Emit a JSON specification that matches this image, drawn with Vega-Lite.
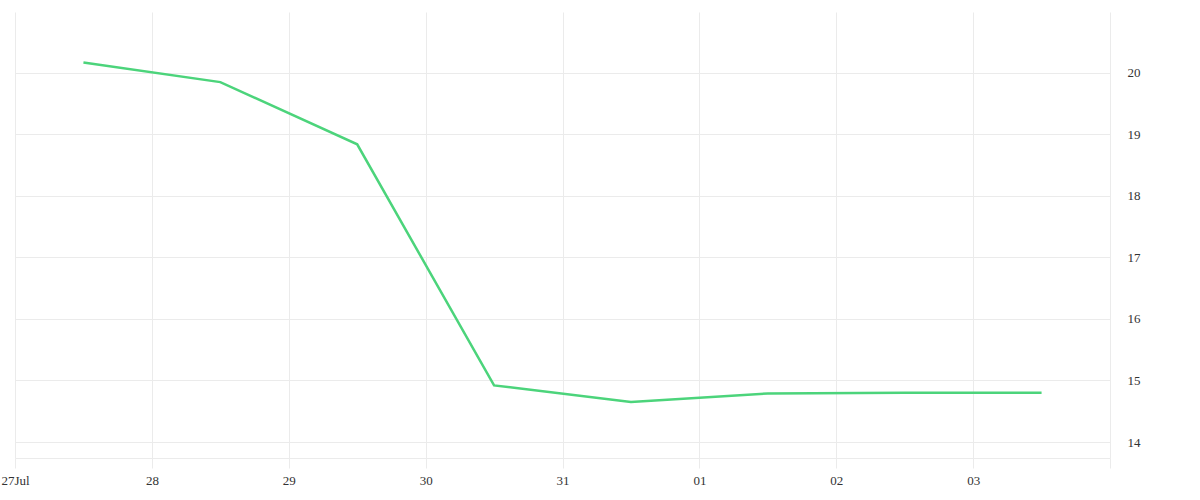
{
  "$schema": "https://vega.github.io/schema/vega-lite/v6.json",
  "width": 1095,
  "height": 446,
  "autosize": "none",
  "padding": {"left": 15, "top": 12, "right": 90, "bottom": 42},
  "background": "#ffffff",
  "config": {"view": {"stroke": null}},
  "data": {
    "values": [
      {"date": "2024-07-27T12:00:00Z", "value": 20.17},
      {"date": "2024-07-28T12:00:00Z", "value": 19.85},
      {"date": "2024-07-29T12:00:00Z", "value": 18.84},
      {"date": "2024-07-30T12:00:00Z", "value": 14.92},
      {"date": "2024-07-31T12:00:00Z", "value": 14.65},
      {"date": "2024-08-01T12:00:00Z", "value": 14.79},
      {"date": "2024-08-02T12:00:00Z", "value": 14.80},
      {"date": "2024-08-03T12:00:00Z", "value": 14.80}
    ]
  },
  "mark": {"type": "line", "color": "#4cd47b", "strokeWidth": 2.5},
  "encoding": {
    "x": {
      "field": "date",
      "type": "temporal",
      "scale": {
        "type": "utc",
        "domain": [
          {"year": 2024, "month": 7, "date": 27, "utc": true},
          {"year": 2024, "month": 8, "date": 4, "utc": true}
        ]
      },
      "axis": {
        "title": null,
        "values": [
          {"year": 2024, "month": 7, "date": 27, "utc": true},
          {"year": 2024, "month": 7, "date": 28, "utc": true},
          {"year": 2024, "month": 7, "date": 29, "utc": true},
          {"year": 2024, "month": 7, "date": 30, "utc": true},
          {"year": 2024, "month": 7, "date": 31, "utc": true},
          {"year": 2024, "month": 8, "date": 1, "utc": true},
          {"year": 2024, "month": 8, "date": 2, "utc": true},
          {"year": 2024, "month": 8, "date": 3, "utc": true},
          {"year": 2024, "month": 8, "date": 4, "utc": true}
        ],
        "labelExpr": "utcdate(datum.value) == 27 ? '27Jul' : (utcdate(datum.value) == 4 ? '' : utcFormat(datum.value, '%d'))",
        "grid": true,
        "gridColor": "#ebebeb",
        "tickColor": "#ebebeb",
        "tickSize": 10,
        "domainColor": "#ebebeb",
        "labelFont": "Liberation Serif",
        "labelFontSize": 13,
        "labelColor": "#333333",
        "labelPadding": 6,
        "labelFlush": false,
        "labelOverlap": false
      }
    },
    "y": {
      "field": "value",
      "type": "quantitative",
      "scale": {"domain": [13.74, 20.99], "zero": false, "nice": false},
      "axis": {
        "title": null,
        "orient": "right",
        "values": [14, 15, 16, 17, 18, 19, 20],
        "grid": true,
        "gridColor": "#ebebeb",
        "ticks": false,
        "domain": false,
        "labelFont": "Liberation Serif",
        "labelFontSize": 13,
        "labelColor": "#333333",
        "labelPadding": 17,
        "labelBaseline": "middle"
      }
    }
  }
}
